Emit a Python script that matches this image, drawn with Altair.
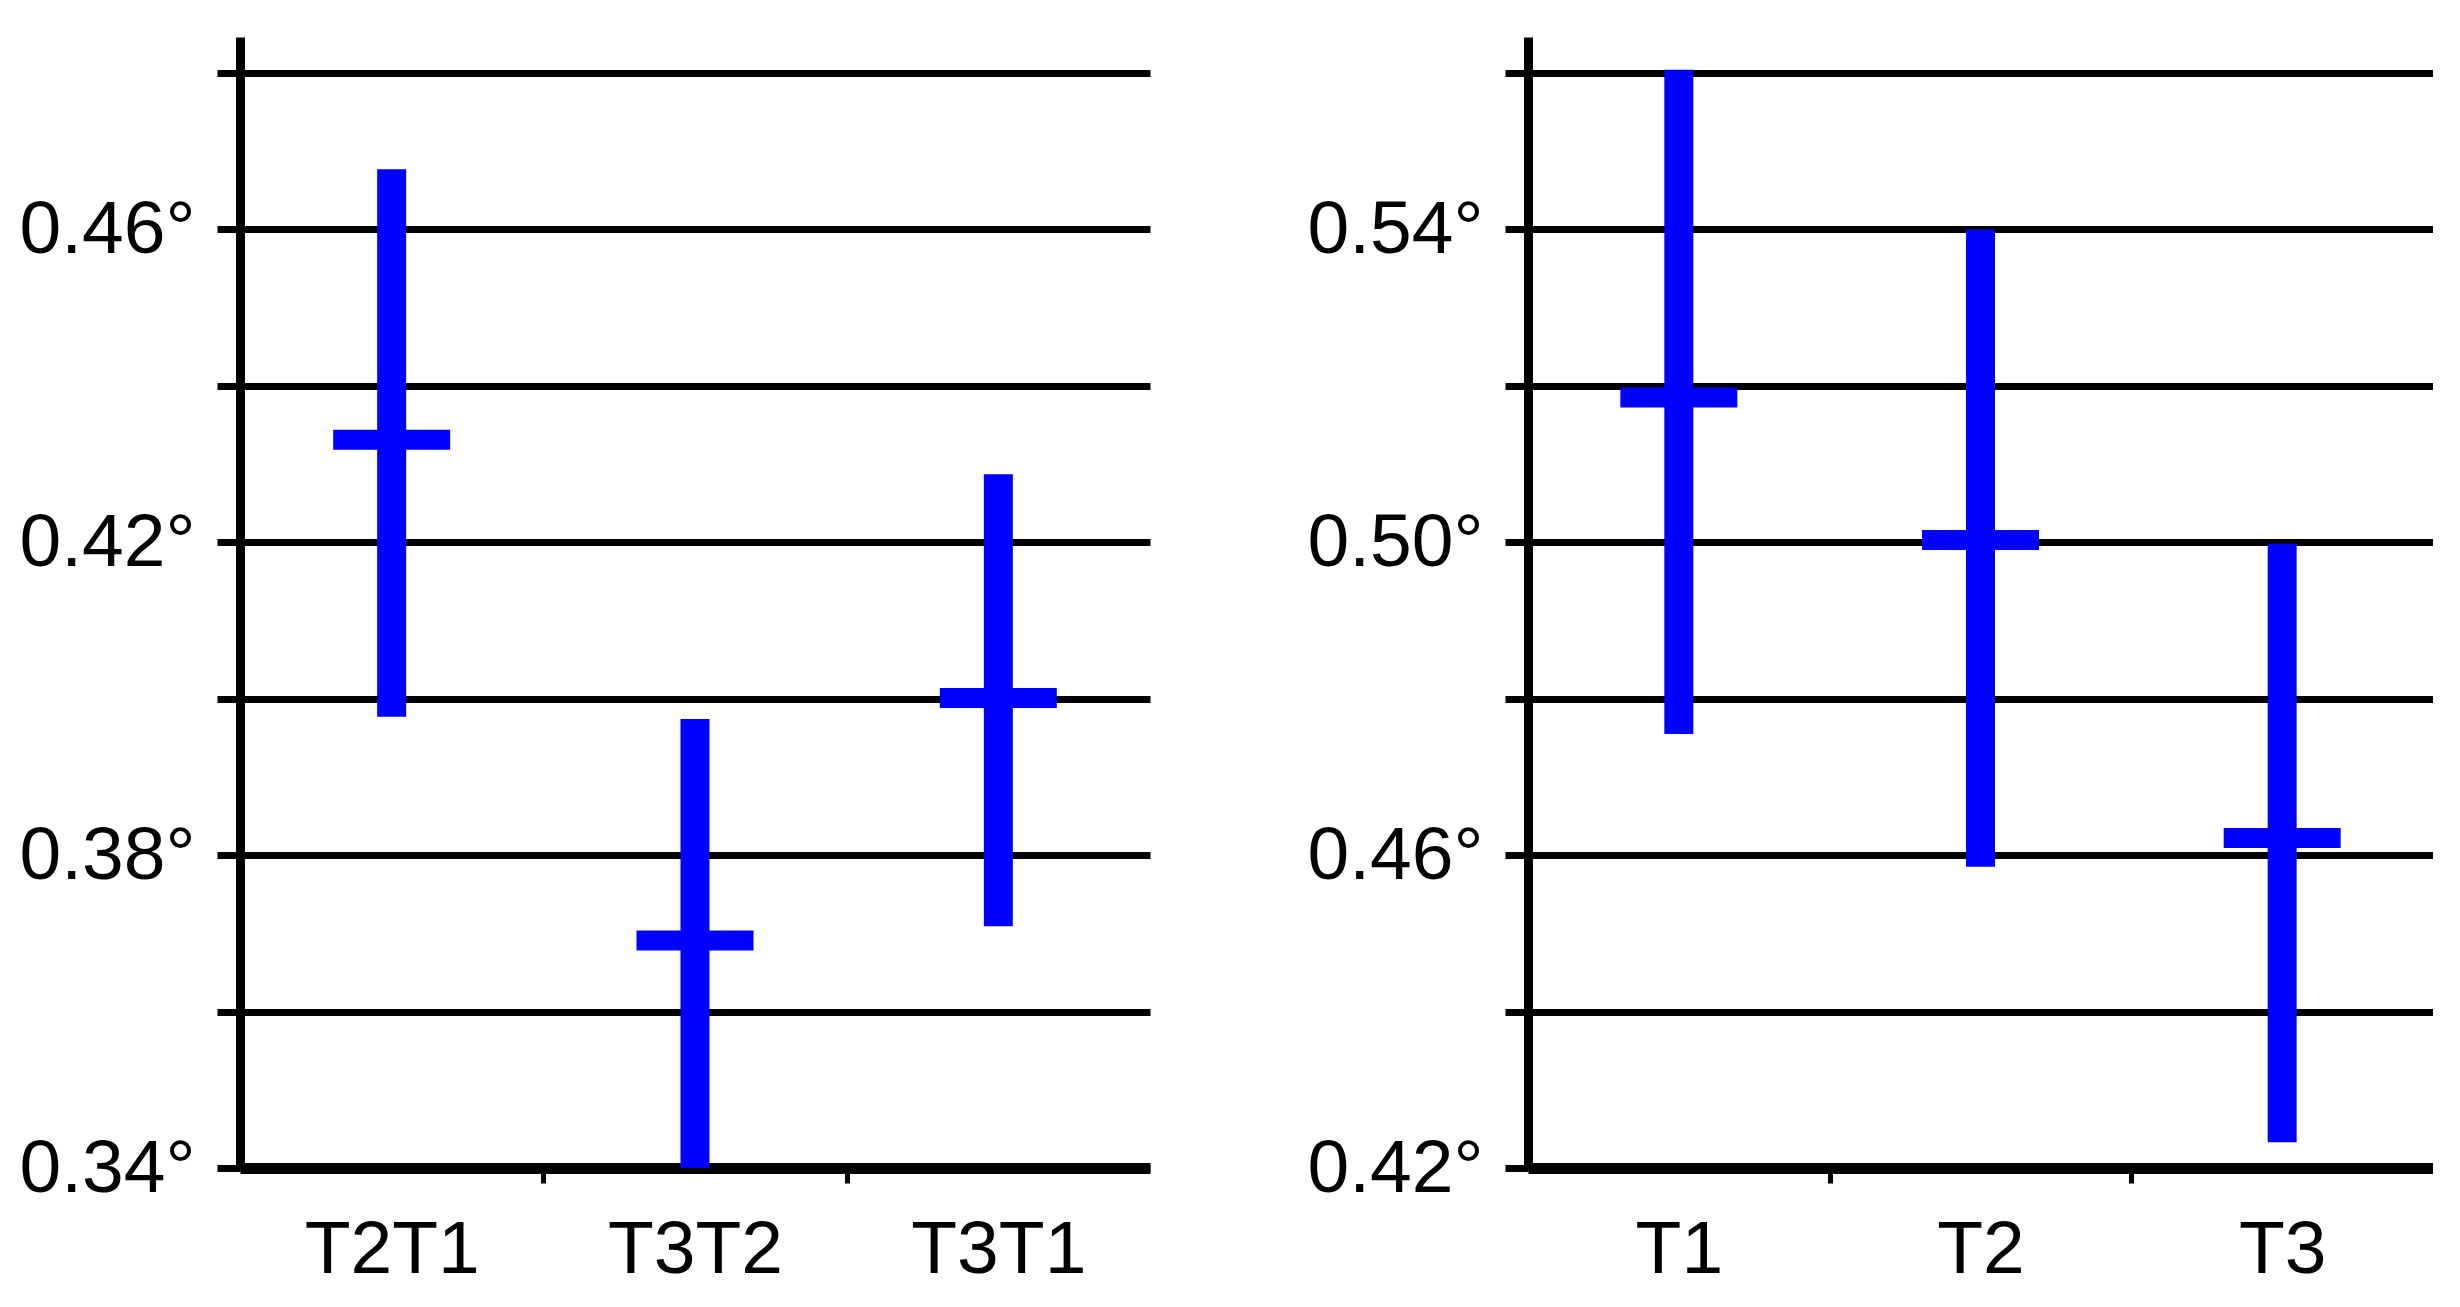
import altair as alt
import pandas as pd

# Left panel (differences)
left_cats = ["T2T1", "T3T2", "T3T1"]
left_lo = [0.3977, 0.3400, 0.3709]
left_hi = [0.4677, 0.3974, 0.4287]
left_mean = [0.4331, 0.3691, 0.4001]
left_ticks = [0.34, 0.36, 0.38, 0.40, 0.42, 0.44, 0.46, 0.48]
left_domain = [0.34, 0.4846]

# Right panel (time points)
right_cats = ["T1", "T2", "T3"]
right_lo = [0.4755, 0.4585, 0.4233]
right_hi = [0.5604, 0.5400, 0.4998]
right_mean = [0.5185, 0.5003, 0.4622]
right_ticks = [0.42, 0.44, 0.46, 0.48, 0.50, 0.52, 0.54, 0.56]
right_domain = [0.42, 0.5646]

BLUE = "#0000ff"
FONT = "Liberation Sans"
FS = 75
H = 1131

label_expr = "round(datum.value*100)%4==2 ? format(datum.value,'.2f')+'°' : ''"


def panel(cats, lo, hi, mean, ticks, domain, width):
    df = pd.DataFrame({"cat": cats, "lo": lo, "hi": hi, "mean": mean})
    x = alt.X(
        "cat:N",
        sort=cats,
        scale=alt.Scale(paddingInner=0, paddingOuter=0),
        axis=alt.Axis(
            title=None,
            labelAngle=0,
            tickBand="extent",
            tickSize=15,
            tickWidth=5,
            tickColor="black",
            tickOpacity={
                "condition": {"test": "datum.index < 0 || datum.index > 0.75", "value": 0},
                "value": 1,
            },
            domainColor="black",
            domainWidth=11,
            labelFont=FONT,
            labelFontSize=FS,
            labelColor="black",
            labelPadding=30,
            grid=False,
        ),
    )
    yscale = alt.Scale(domain=domain, nice=False, zero=False)
    yaxis = alt.Axis(
        title=None,
        values=ticks,
        labelExpr=label_expr,
        grid=True,
        gridColor="black",
        gridWidth=7,
        gridOpacity=1,
        tickSize=23,
        tickWidth=7,
        tickColor="black",
        domainColor="black",
        domainWidth=9,
        labelFont=FONT,
        labelFontSize=FS,
        labelColor="black",
        labelPadding=22,
        labelOverlap=False,
    )
    base = alt.Chart(df)
    rule = base.mark_rule(color=BLUE, strokeWidth=29, strokeCap="butt").encode(
        x=x,
        y=alt.Y("lo:Q", scale=yscale, axis=yaxis),
        y2="hi:Q",
    )
    tick = base.mark_tick(color=BLUE, size=117, thickness=20, opacity=1).encode(
        x=x,
        y=alt.Y("mean:Q", scale=yscale, axis=yaxis),
    )
    return alt.layer(rule, tick).properties(width=width, height=H)


left = panel(left_cats, left_lo, left_hi, left_mean, left_ticks, left_domain, 910)
right = panel(right_cats, right_lo, right_hi, right_mean, right_ticks, right_domain, 905)

chart = (
    alt.hconcat(left, right, spacing=157)
    .resolve_scale(y="independent", x="independent")
    .properties(padding={"left": 11, "top": 27, "right": 0, "bottom": 0}, background="white")
    .configure_view(stroke=None)
)

chart.save("out.html", embed_options={"renderer": "svg", "actions": False})
